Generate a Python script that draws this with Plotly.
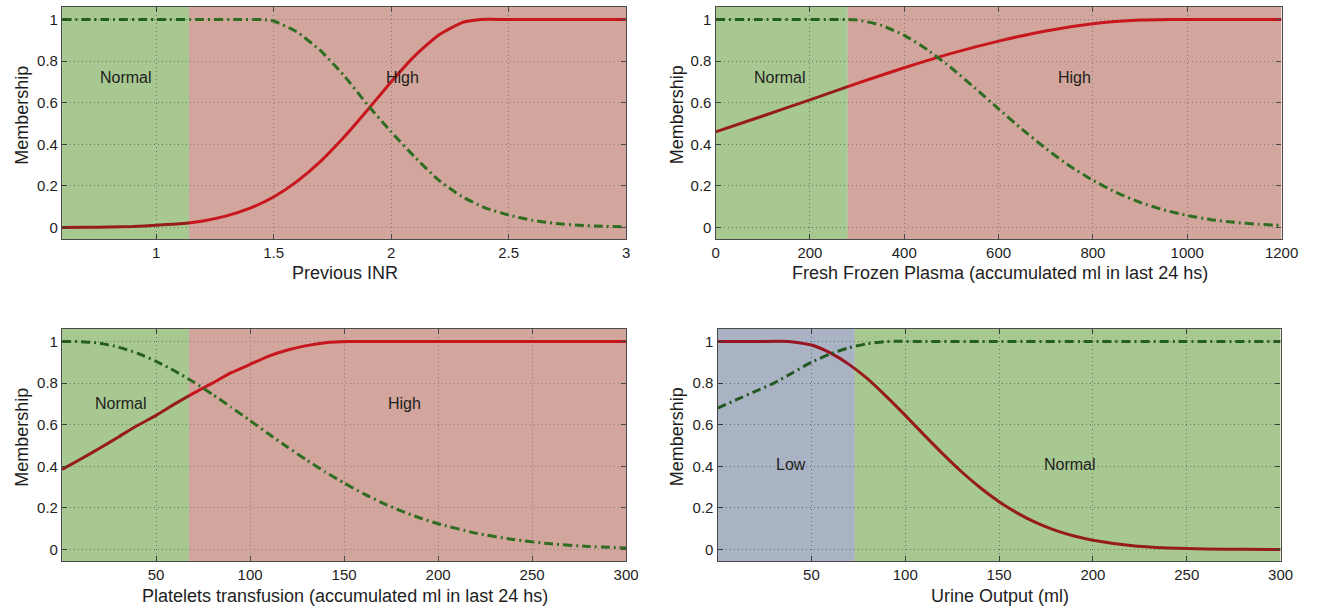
import plotly.graph_objects as go

# ---------------- data ----------------
# Panel 1: Previous INR
inr_x = [0.6, 0.7, 0.8, 0.9, 1.0, 1.1, 1.2, 1.3, 1.4, 1.5, 1.6, 1.7, 1.8, 1.9, 2.0, 2.1, 2.2, 2.3, 2.38, 2.5, 2.75, 3.0]
inr_high = [0.0, 0.001, 0.003, 0.005, 0.011, 0.018, 0.032, 0.056, 0.093, 0.147, 0.222, 0.318, 0.435, 0.565, 0.70, 0.824, 0.923, 0.984, 1.0, 1.0, 1.0, 1.0]
inr_nx = [0.6, 0.8, 1.0, 1.2, 1.35, 1.45, 1.5, 1.6, 1.7, 1.8, 1.9, 2.0, 2.1, 2.2, 2.3, 2.4, 2.5, 2.6, 2.7, 2.8, 2.9, 3.0]
inr_normal = [1.0, 1.0, 1.0, 1.0, 1.0, 1.0, 0.993, 0.94, 0.85, 0.73, 0.59, 0.46, 0.34, 0.23, 0.15, 0.095, 0.06, 0.035, 0.02, 0.011, 0.006, 0.004]

# Panel 2: Fresh Frozen Plasma
ffp_x = [0, 100, 200, 300, 400, 500, 600, 700, 800, 900, 960, 1050, 1200]
ffp_high = [0.46, 0.536, 0.614, 0.693, 0.768, 0.837, 0.896, 0.945, 0.979, 0.997, 1.0, 1.0, 1.0]
ffp_nx = [0, 100, 200, 250, 280, 300, 350, 400, 450, 500, 550, 600, 650, 700, 750, 800, 850, 900, 950, 1000, 1050, 1100, 1150, 1200]
ffp_normal = [1.0, 1.0, 1.0, 1.0, 1.0, 0.998, 0.973, 0.924, 0.853, 0.767, 0.67, 0.57, 0.472, 0.38, 0.297, 0.227, 0.168, 0.121, 0.085, 0.058, 0.038, 0.025, 0.016, 0.01]

# Panel 3: Platelets transfusion
plt_x = [0, 10, 20, 30, 40, 50, 60, 70, 80, 90, 100, 110, 120, 130, 140, 152, 175, 200, 250, 300]
plt_high = [0.385, 0.435, 0.487, 0.541, 0.596, 0.645, 0.70, 0.752, 0.80, 0.85, 0.89, 0.93, 0.959, 0.98, 0.994, 1.0, 1.0, 1.0, 1.0, 1.0]
plt_nx = [0, 8, 20, 30, 40, 50, 60, 70, 80, 90, 100, 110, 120, 130, 140, 150, 160, 170, 180, 190, 200, 220, 240, 260, 280, 300]
plt_normal = [1.0, 1.0, 0.992, 0.973, 0.944, 0.905, 0.858, 0.805, 0.746, 0.684, 0.62, 0.555, 0.492, 0.431, 0.373, 0.32, 0.27, 0.226, 0.187, 0.153, 0.124, 0.079, 0.048, 0.0275, 0.015, 0.008]

# Panel 4: Urine Output
uo_x = [0, 20, 38, 50, 60, 70, 80, 90, 100, 110, 120, 130, 140, 150, 160, 170, 180, 190, 200, 220, 240, 260, 280, 300]
uo_low = [1.0, 1.0, 1.0, 0.983, 0.945, 0.89, 0.82, 0.735, 0.645, 0.551, 0.46, 0.374, 0.297, 0.23, 0.174, 0.128, 0.092, 0.065, 0.045, 0.02, 0.008, 0.003, 0.001, 0.0]
uo_nx = [0, 10, 20, 30, 40, 50, 60, 70, 80, 90, 110, 150, 200, 250, 300]
uo_normal = [0.68, 0.72, 0.76, 0.80, 0.85, 0.90, 0.94, 0.97, 0.99, 1.0, 1.0, 1.0, 1.0, 1.0, 1.0]

y_ticks = [0, 0.2, 0.4, 0.6, 0.8, 1]
x1_ticks = [1, 1.5, 2, 2.5, 3]
x2_ticks = [0, 200, 400, 600, 800, 1000, 1200]
x3_ticks = [50, 100, 150, 200, 250, 300]
x4_ticks = [50, 100, 150, 200, 250, 300]

# ---------------- styling ----------------
RED = "#C8161E"
GREEN = "#2F6E22"
DASH = "9px,4px,2px,4px"
FONT = "Liberation Sans, Arial, sans-serif"
TXT = "#1e1e1e"

fig = go.Figure()

panels = [
    ("x", "y", inr_x, inr_high, inr_nx, inr_normal),
    ("x2", "y2", ffp_x, ffp_high, ffp_nx, ffp_normal),
    ("x3", "y3", plt_x, plt_high, plt_nx, plt_normal),
    ("x4", "y4", uo_x, uo_low, uo_nx, uo_normal),
]
for xa, ya, rx, ry, gx, gy in panels:
    fig.add_trace(go.Scatter(x=rx, y=ry, xaxis=xa, yaxis=ya, mode="lines",
                             line=dict(color=RED, width=3, shape="spline", smoothing=0.5),
                             showlegend=False, hoverinfo="skip"))
    fig.add_trace(go.Scatter(x=gx, y=gy, xaxis=xa, yaxis=ya, mode="lines",
                             line=dict(color=GREEN, width=3, dash=DASH, shape="spline", smoothing=0.5),
                             showlegend=False, hoverinfo="skip"))

GREEN_BASE = "rgb(225,250,188)"
GREEN_OVER = "rgba(0,50,15,0.25)"
BLUE_BASE = "rgb(227,233,247)"
BLUE_OVER = "rgba(0,20,40,0.25)"
PINK = "rgb(210,166,156)"

def region(xref, yref, x0, x1, base, over=None):
    shapes = [dict(type="rect", xref=xref, yref=yref + " domain", x0=x0, x1=x1, y0=0, y1=1,
                   fillcolor=base, line=dict(width=0), layer="below")]
    if over:
        shapes.append(dict(type="rect", xref=xref, yref=yref + " domain", x0=x0, x1=x1, y0=0, y1=1,
                           fillcolor=over, line=dict(width=0), layer="above"))
    return shapes

shapes = []
shapes += region("x", "y", 0.6, 1.14, GREEN_BASE, GREEN_OVER)
shapes += region("x", "y", 1.14, 3.0, PINK)
shapes += region("x2", "y2", 0, 280, GREEN_BASE, GREEN_OVER)
shapes += region("x2", "y2", 280, 1200, PINK)
shapes += region("x3", "y3", 0, 67.5, GREEN_BASE, GREEN_OVER)
shapes += region("x3", "y3", 67.5, 300, PINK)
shapes += region("x4", "y4", 0, 73, BLUE_BASE, BLUE_OVER)
shapes += region("x4", "y4", 73, 300, GREEN_BASE, GREEN_OVER)

W, H = 1334, 612
def px(v):
    return v / W
def py(v):
    return 1 - v / H

common_axis = dict(showline=True, linecolor="#4a4a4a", linewidth=1.3, mirror="ticks",
                   ticks="inside", ticklen=5, tickcolor="#4a4a4a", tickwidth=1,
                   showgrid=True, gridcolor="rgba(110,110,110,0.75)", griddash="1px,3px", gridwidth=1,
                   zeroline=False, tickfont=dict(family=FONT, size=15, color=TXT))

top_dom = [py(239), py(7)]
bot_dom = [py(561), py(329)]
left_dom = [px(59), px(632)]
right_dom = [px(723), px(1298)]
right_dom2 = [px(725), px(1297)]

yr = [-0.055, 1.06]

fig.update_layout(
    width=W, height=H, margin=dict(l=0, r=0, t=0, b=0),
    paper_bgcolor="white", plot_bgcolor="white",
    font=dict(family=FONT, color=TXT),
    shapes=shapes,
    xaxis=dict(domain=left_dom, anchor="y", range=[0.6, 3.0], tickvals=x1_ticks, **common_axis),
    yaxis=dict(domain=top_dom, anchor="x", range=yr, tickvals=y_ticks, **common_axis),
    xaxis2=dict(domain=right_dom, anchor="y2", range=[0, 1200], tickvals=x2_ticks, **common_axis),
    yaxis2=dict(domain=top_dom, anchor="x2", range=yr, tickvals=y_ticks, **common_axis),
    xaxis3=dict(domain=left_dom, anchor="y3", range=[0, 300], tickvals=x3_ticks, **common_axis),
    yaxis3=dict(domain=bot_dom, anchor="x3", range=yr, tickvals=y_ticks, **common_axis),
    xaxis4=dict(domain=right_dom2, anchor="y4", range=[0, 300], tickvals=x4_ticks, **common_axis),
    yaxis4=dict(domain=bot_dom, anchor="x4", range=yr, tickvals=y_ticks, **common_axis),
)

ann = []
def lab(xref, yref, x, y, text):
    ann.append(dict(xref=xref, yref=yref, x=x, y=y, text=text, showarrow=False,
                    font=dict(family=FONT, size=16, color=TXT), xanchor="center", yanchor="middle"))

lab("x", "y", 0.87, 0.72, "Normal")
lab("x", "y", 2.05, 0.72, "High")
lab("x2", "y2", 136, 0.72, "Normal")
lab("x2", "y2", 760, 0.72, "High")
lab("x3", "y3", 31.5, 0.70, "Normal")
lab("x3", "y3", 182, 0.70, "High")
lab("x4", "y4", 39, 0.41, "Low")
lab("x4", "y4", 188, 0.41, "Normal")

def title(x, y, text, angle=0):
    ann.append(dict(xref="paper", yref="paper", x=px(x), y=py(y), text=text, showarrow=False,
                    textangle=angle, font=dict(family=FONT, size=18, color=TXT),
                    xanchor="center", yanchor="middle"))

title(346, 273, "Previous INR")
title(1012, 273, "Fresh Frozen Plasma (accumulated ml in last 24 hs)")
title(346, 596, "Platelets transfusion (accumulated ml in last 24 hs)")
title(1012, 596, "Urine Output (ml)")
title(18, 115, "Membership", -90)
title(684, 115, "Membership", -90)
title(18, 437, "Membership", -90)
title(684, 437, "Membership", -90)

fig.update_layout(annotations=ann)

fig.write_html("out.html")
